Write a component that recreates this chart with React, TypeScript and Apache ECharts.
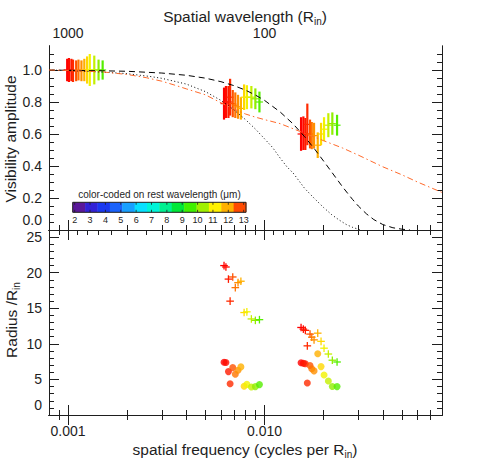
import React, { useEffect, useRef } from "react";
import * as echarts from "echarts";

// ---------- data ----------
const X_MIN = 0.0008;
const X_MAX = 0.08;

// spectral channels (rest wavelength, micron) shared by all baselines
const channelWavelengths = [13.0, 12.7, 12.35, 12.1, 11.75, 11.4, 11.05, 10.7, 10.3, 9.95, 9.45, 9.0, 8.6];
const channelColors = [
  "#ff0000", "#ff0c00", "#ff1a00", "#ff2a00", "#ff5200", "#ff7400", "#ff9000",
  "#ffb000", "#ffd800", "#f2f200", "#c4f000", "#90ee00", "#55ee00",
];

// baseline 1
const freqB1 = [0.00099, 0.00101, 0.00104, 0.00106, 0.0011, 0.00113, 0.00117, 0.00121, 0.00125, 0.00129, 0.00136, 0.00143, 0.0015];
const visB1 = [1.0, 1.0, 1.0, 0.995, 0.995, 1.0, 0.995, 1.0, 1.0, 1.0, 1.0, 1.0, 1.0];
const errB1 = [0.07, 0.075, 0.07, 0.07, 0.065, 0.065, 0.065, 0.07, 0.085, 0.1, 0.09, 0.065, 0.06];
// baseline 2
const freqB2 = [0.00622, 0.00636, 0.00655, 0.00668, 0.00689, 0.0071, 0.00733, 0.00758, 0.00787, 0.00813, 0.00857, 0.00898, 0.00942];
const visB2 = [0.79, 0.8, 0.8, 0.83, 0.79, 0.78, 0.77, 0.76, 0.83, 0.83, 0.83, 0.82, 0.8];
const errB2 = [0.1, 0.1, 0.1, 0.115, 0.085, 0.08, 0.075, 0.07, 0.08, 0.075, 0.07, 0.065, 0.065];
// baseline 3
const freqB3 = [0.01534, 0.01576, 0.01613, 0.01651, 0.01704, 0.01739, 0.01786, 0.01865, 0.01939, 0.02008, 0.02112, 0.02213, 0.02339];
const visB3 = [0.6, 0.605, 0.6, 0.66, 0.6, 0.59, 0.59, 0.53, 0.6, 0.63, 0.655, 0.665, 0.655];
const errB3 = [0.105, 0.105, 0.1, 0.13, 0.09, 0.085, 0.08, 0.08, 0.07, 0.075, 0.075, 0.07, 0.065];

// radii (R_in) : crosses and dots
const crossRadB2 = [21.0, 20.8, 19.1, 16.0, 19.4, 17.9, 18.6, 18.8, 14.4, 14.5, 13.5, 13.3, 13.4];
const dotRadB2 = [7.42, 7.37, 6.1, 4.4, 6.66, 5.73, 6.3, 6.76, 4.04, 4.3, 3.94, 3.99, 4.27];
const crossRadB3 = [12.3, 12.07, 11.9, 9.72, 11.37, 10.94, 10.56, 11.5, 10.35, 9.39, 8.57, 7.7, 7.45];
const dotRadB3 = [7.35, 7.26, 7.2, 4.5, 6.95, 6.5, 6.2, 8.6, 6.8, 5.63, 4.79, 4.0, 3.99];

// model curves
const dashedFreq = [0.0008, 0.001, 0.0015, 0.002, 0.003, 0.004, 0.005, 0.006, 0.007, 0.008, 0.009, 0.01, 0.012, 0.014, 0.016, 0.018, 0.02, 0.022, 0.025, 0.028, 0.03, 0.033, 0.036, 0.04, 0.045, 0.05, 0.055];
const dashedVis = [1.0, 0.998, 0.995, 0.992, 0.981, 0.967, 0.949, 0.927, 0.902, 0.874, 0.843, 0.81, 0.738, 0.662, 0.583, 0.505, 0.43, 0.361, 0.268, 0.192, 0.15, 0.101, 0.065, 0.034, 0.014, 0.005, 0.0];
const dottedFreq = [0.0008, 0.0012, 0.0016, 0.002, 0.0026, 0.003, 0.004, 0.005, 0.006, 0.007, 0.008, 0.009, 0.01, 0.011, 0.012, 0.013, 0.014, 0.016, 0.018, 0.02, 0.022, 0.024, 0.026, 0.028, 0.03, 0.031];
const dottedVis = [1.0, 0.993, 0.985, 0.977, 0.96, 0.948, 0.912, 0.865, 0.81, 0.75, 0.69, 0.63, 0.57, 0.515, 0.45, 0.395, 0.355, 0.26, 0.195, 0.14, 0.095, 0.062, 0.035, 0.017, 0.005, 0.0];
const dashDotFreq = [0.0008, 0.001, 0.0015, 0.002, 0.0025, 0.003, 0.0035, 0.004, 0.005, 0.006, 0.007, 0.008, 0.009, 0.01, 0.012, 0.015, 0.02, 0.025, 0.03, 0.04, 0.05, 0.06, 0.07, 0.08];
const dashDotVis = [1.0, 0.997, 0.988, 0.972, 0.952, 0.93, 0.905, 0.882, 0.845, 0.795, 0.755, 0.725, 0.705, 0.69, 0.665, 0.618, 0.558, 0.512, 0.468, 0.395, 0.345, 0.3, 0.265, 0.235];

// ticks
const freqMajorTicks = [0.001, 0.01];
const freqMinorTicks = [0.0009, 0.002, 0.003, 0.004, 0.005, 0.006, 0.007, 0.008, 0.009, 0.02, 0.03, 0.04, 0.05, 0.06, 0.07];
const wavelengthMajorTicks = [1000, 100];
const wavelengthMinorTicks = [900, 800, 700, 600, 500, 400, 300, 200, 90, 80, 70, 60, 50, 40, 30, 20];
const visMajorTicks = [0, 0.2, 0.4, 0.6, 0.8, 1.0];
const visMinorTicks = [0.05, 0.1, 0.15, 0.25, 0.3, 0.35, 0.45, 0.5, 0.55, 0.65, 0.7, 0.75, 0.85, 0.9, 0.95, 1.05, 1.1];
const radMajorTicks = [0, 5, 10, 15, 20, 25];
const radMinorTicks = [1, 2, 3, 4, 6, 7, 8, 9, 11, 12, 13, 14, 16, 17, 18, 19, 21, 22, 23, 24];
const colorbarTicks = [2, 3, 4, 5, 6, 7, 8, 9, 10, 11, 12, 13];
const colorbarColors = [
  "#5a189a", "#3222d6", "#1a38f0", "#1a62fa", "#18a0ff", "#08e0ff", "#00f4d8",
  "#00f090", "#00e838", "#40f000", "#a0f000", "#fff200", "#ffb000", "#ff4a00",
];

// ---------- styling ----------
const FONT = "'Liberation Sans', Arial, sans-serif";
const INK = "#1e1e1e";
const VIS_MAX = 1.15;
const RAD_MAX = 26;

const xAx = (gridIndex: number, position: string, ticks: number[], len: number, labels?: number[], fmt?: (v: number) => string, margin = 8) => ({
  type: "log",
  logBase: 10,
  min: X_MIN,
  max: X_MAX,
  gridIndex,
  position,
  axisLine: { show: true, lineStyle: { color: INK, width: 1 } },
  axisTick: { show: true, inside: true, length: len, customValues: ticks, lineStyle: { color: INK, width: 1 } },
  axisLabel: labels
    ? { show: true, customValues: labels, formatter: fmt, margin, fontSize: 14, color: INK, fontFamily: FONT }
    : { show: false },
  splitLine: { show: false },
  minorTick: { show: false },
});

const yAx = (gridIndex: number, position: string, max: number, ticks: number[], len: number, labels?: number[], fmt?: (v: number) => string, vAlign = "middle") => ({
  type: "value",
  min: 0,
  max,
  gridIndex,
  position,
  axisLine: { show: true, lineStyle: { color: INK, width: 1 } },
  axisTick: { show: ticks.length > 0, inside: true, length: len, customValues: ticks.length ? ticks : [0], lineStyle: { color: INK, width: 1 } },
  axisLabel: labels
    ? {
        show: true, customValues: labels, formatter: fmt, margin: 7, fontSize: 14, color: INK, fontFamily: FONT,
        verticalAlign: vAlign, padding: vAlign === "bottom" ? [0, 0, 3, 0] : 0,
      }
    : { show: false },
  splitLine: { show: false },
  minorTick: { show: false },
});

const App: React.FC = () => {
  const ref = useRef<HTMLDivElement>(null);

  useEffect(() => {
    document.body.style.margin = "0";
    if (!ref.current) return;
    const chart = echarts.init(ref.current, undefined, { renderer: "svg" });

    const errData: number[][] = [];
    [[freqB1, visB1, errB1], [freqB2, visB2, errB2], [freqB3, visB3, errB3]].forEach(([f, v, e]) => {
      f.forEach((fv, i) => errData.push([fv, v[i], e[i], i]));
    });
    const crossData: number[][] = [];
    const dotData: any[] = [];
    [[freqB2, crossRadB2, dotRadB2], [freqB3, crossRadB3, dotRadB3]].forEach(([f, c, d]) => {
      f.forEach((fv, i) => {
        crossData.push([fv, c[i], i]);
        dotData.push({ value: [fv, d[i]], itemStyle: { color: channelColors[i] } });
      });
    });
    const zip = (a: number[], b: number[]) => a.map((v, i) => [v, b[i]]);
    const topMinor = freqMinorTicks.concat(wavelengthMinorTicks.map((w) => 1 / w));

    // colour bar geometry
    const cbLeft = 72.7, cbRight = 246, cbTop = 202.3, cbH = 10;
    const segW = (cbRight - cbLeft) / colorbarColors.length;
    const tickX = (w: number) => 74.7 + (w - 2) * 15.36;
    const graphic: any[] = [];
    colorbarColors.forEach((c, i) => {
      graphic.push({ type: "rect", silent: true, shape: { x: cbLeft + i * segW, y: cbTop, width: segW + 0.4, height: cbH }, style: { fill: c } });
    });
    graphic.push({ type: "rect", silent: true, shape: { x: cbLeft, y: cbTop, width: cbRight - cbLeft, height: cbH }, style: { fill: "none", stroke: INK, lineWidth: 1 } });
    colorbarTicks.forEach((w) => {
      const x = tickX(w);
      graphic.push({ type: "line", silent: true, shape: { x1: x, y1: cbTop + cbH, x2: x, y2: cbTop + cbH - 2.5 }, style: { stroke: INK, lineWidth: 0.8 } });
      graphic.push({ type: "line", silent: true, shape: { x1: x, y1: cbTop, x2: x, y2: cbTop + 2.5 }, style: { stroke: INK, lineWidth: 0.8 } });
      graphic.push({ type: "text", silent: true, x, y: 219.5, style: { text: String(w), fontSize: 9, fontFamily: FONT, fill: INK, align: "center", verticalAlign: "middle" } });
    });
    graphic.push({ type: "text", silent: true, x: 159.5, y: 194.5, style: { text: "color-coded on rest wavelength (μm)", fontSize: 10, fontFamily: FONT, fill: INK, align: "center", verticalAlign: "middle" } });

    const sub = { sub: { fontSize: 10, verticalAlign: "bottom", lineHeight: 10, fontFamily: FONT, fill: INK } };
    const base = { fontSize: 15.5, lineHeight: 21, fontFamily: FONT, fill: INK, align: "center", verticalAlign: "middle", rich: sub };
    graphic.push({ type: "text", silent: true, x: 245, y: 16, style: { ...base, text: "Spatial wavelength (R{sub|in})" } });
    graphic.push({ type: "text", silent: true, x: 245, y: 449, style: { ...base, text: "spatial frequency (cycles per R{sub|in})" } });
    graphic.push({ type: "text", silent: true, x: 10, y: 139, rotation: Math.PI / 2, style: { text: "Visibility amplitude", fontSize: 15.5, fontFamily: FONT, fill: INK, align: "center", verticalAlign: "middle" } });
    graphic.push({ type: "text", silent: true, x: 11, y: 320, rotation: Math.PI / 2, style: { ...base, text: "Radius /R{sub|in}" } });

    const option: any = {
      animation: false,
      backgroundColor: "#ffffff",
      textStyle: { fontFamily: FONT },
      grid: [
        { left: 49, top: 46, width: 393, height: 184, outerBoundsMode: "none", containLabel: false },
        { left: 49, top: 230, width: 393, height: 185, outerBoundsMode: "none", containLabel: false },
      ],
      xAxis: [
        xAx(0, "bottom", freqMajorTicks, 10),
        xAx(0, "bottom", freqMinorTicks, 5),
        xAx(0, "top", freqMajorTicks, 10, wavelengthMajorTicks.map((w) => 1 / w), (v) => String(Math.round(1 / v)), 6),
        xAx(0, "top", topMinor, 5),
        xAx(1, "bottom", freqMajorTicks, 10, freqMajorTicks, (v) => v.toFixed(3), 9),
        xAx(1, "bottom", freqMinorTicks, 5),
        xAx(1, "top", freqMajorTicks, 10),
        xAx(1, "top", freqMinorTicks, 5),
      ],
      yAxis: [
        yAx(0, "left", VIS_MAX, visMajorTicks, 10, visMajorTicks.slice(1), (v) => v.toFixed(1)),
        yAx(0, "left", VIS_MAX, visMinorTicks, 5),
        yAx(0, "right", VIS_MAX, visMajorTicks, 10),
        yAx(0, "right", VIS_MAX, visMinorTicks, 5),
        yAx(0, "left", VIS_MAX, [], 0, [0], (v) => v.toFixed(1), "bottom"),
        yAx(1, "left", RAD_MAX, radMajorTicks, 10, radMajorTicks.slice(1), (v) => String(Math.round(v))),
        yAx(1, "left", RAD_MAX, radMinorTicks, 5),
        yAx(1, "right", RAD_MAX, radMajorTicks, 10),
        yAx(1, "right", RAD_MAX, radMinorTicks, 5),
        yAx(1, "left", RAD_MAX, [], 0, [0], (v) => String(Math.round(v)), "bottom"),
      ],
      series: [
        {
          type: "custom",
          name: "visibility",
          coordinateSystem: "cartesian2d",
          xAxisIndex: 0,
          yAxisIndex: 0,
          silent: true,
          encode: { x: 0, y: 1 },
          data: errData,
          renderItem: (_p: any, api: any) => {
            const f = api.value(0), v = api.value(1), e = api.value(2), ci = api.value(3);
            const t = api.coord([f, v + e]);
            const b = api.coord([f, v - e]);
            const m = api.coord([f, v]);
            const c = channelColors[ci];
            return {
              type: "group",
              children: [
                { type: "line", shape: { x1: t[0], y1: t[1], x2: b[0], y2: b[1] }, style: { stroke: c, lineWidth: 2.2 } },
                { type: "line", shape: { x1: m[0] - 3.5, y1: m[1], x2: m[0] + 3.5, y2: m[1] }, style: { stroke: c, lineWidth: 1.2 } },
              ],
            };
          },
        },
        {
          type: "line", name: "gaussian", xAxisIndex: 0, yAxisIndex: 0, data: zip(dashedFreq, dashedVis),
          showSymbol: false, symbol: "none", silent: true, lineStyle: { color: "#000", width: 1, type: [6, 4] },
        },
        {
          type: "line", name: "disk", xAxisIndex: 0, yAxisIndex: 0, data: zip(dottedFreq, dottedVis),
          showSymbol: false, symbol: "none", silent: true, lineStyle: { color: "#000", width: 1, type: [1, 2.5] },
        },
        {
          type: "line", name: "model", xAxisIndex: 0, yAxisIndex: 0, data: zip(dashDotFreq, dashDotVis),
          showSymbol: false, symbol: "none", silent: true, lineStyle: { color: "#ff6a2b", width: 1, type: [6, 3, 1.5, 3] },
        },
        {
          type: "custom",
          name: "outer radius",
          coordinateSystem: "cartesian2d",
          xAxisIndex: 4,
          yAxisIndex: 5,
          silent: true,
          encode: { x: 0, y: 1 },
          data: crossData,
          renderItem: (_p: any, api: any) => {
            const p = api.coord([api.value(0), api.value(1)]);
            const c = channelColors[api.value(2)];
            const h = 3.8;
            return {
              type: "group",
              children: [
                { type: "line", shape: { x1: p[0] - h, y1: p[1], x2: p[0] + h, y2: p[1] }, style: { stroke: c, lineWidth: 1.3 } },
                { type: "line", shape: { x1: p[0], y1: p[1] - h, x2: p[0], y2: p[1] + h }, style: { stroke: c, lineWidth: 1.3 } },
              ],
            };
          },
        },
        {
          type: "scatter", name: "inner radius", xAxisIndex: 4, yAxisIndex: 5, data: dotData,
          symbol: "circle", symbolSize: 7, silent: true,
        },
      ],
      graphic,
    };
    chart.setOption(option);
    return () => chart.dispose();
  }, []);

  return <div ref={ref} style={{ width: 491, height: 461 }} />;
};

export default App;
